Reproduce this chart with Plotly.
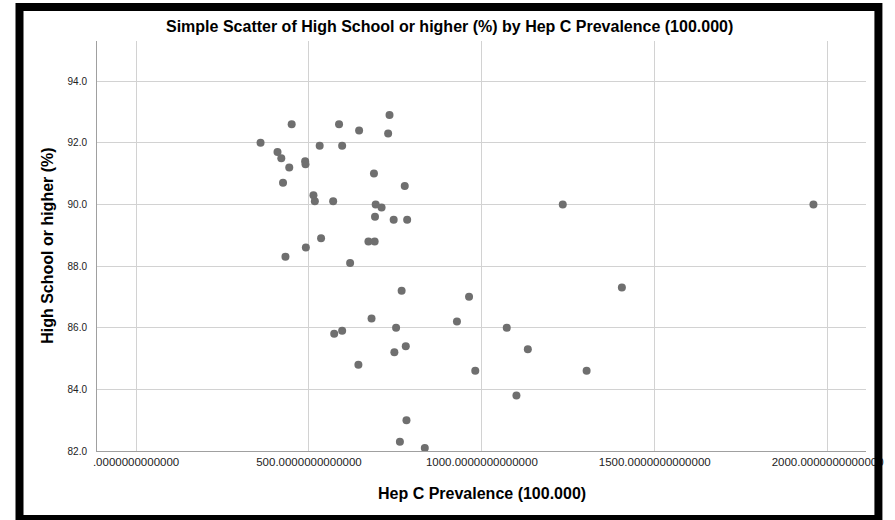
import plotly.graph_objects as go

# Hepatitis C prevalence (per 100,000) and share of adults with high school or higher (%)
hep_c = [1234, 1959, 1405, 1072, 1133, 1303, 1100, 768, 963, 681,
         928, 752, 780, 747, 981, 782, 763, 835, 573, 596,
         643, 450, 587, 645, 360, 531, 596, 409, 420, 489,
         490, 443, 425, 513, 517, 570, 535, 491, 432, 619,
         733, 729, 688, 777, 693, 710, 691, 745, 784, 672, 690]
hs_pct = [90.0, 90.0, 87.3, 86.0, 85.3, 84.6, 83.8, 87.2, 87.0, 86.3,
          86.2, 86.0, 85.4, 85.2, 84.6, 83.0, 82.3, 82.1, 85.8, 85.9,
          84.8, 92.6, 92.6, 92.4, 92.0, 91.9, 91.9, 91.7, 91.5, 91.4,
          91.3, 91.2, 90.7, 90.3, 90.1, 90.1, 88.9, 88.6, 88.3, 88.1,
          92.9, 92.3, 91.0, 90.6, 90.0, 89.9, 89.6, 89.5, 89.5, 88.8, 88.8]

x_ticks = [0, 500, 1000, 1500, 2000]
x_labels = [".0000000000000", "500.0000000000000", "1000.0000000000000",
            "1500.0000000000000", "2000.0000000000000"]
y_ticks = [82, 84, 86, 88, 90, 92, 94]
y_labels = ["82.0", "84.0", "86.0", "88.0", "90.0", "92.0", "94.0"]

title_text = "Simple Scatter of High School or higher (%) by Hep C Prevalence (100.000)"
x_title = "Hep C Prevalence (100.000)"
y_title = "High School or higher (%)"

W, H = 895, 520
ML, MR, MT, MB = 97, 24, 41, 69
FONT = "Liberation Sans, Arial, Helvetica, sans-serif"


def fx(p):
    """pixel column -> paper x"""
    return (p - ML) / (W - ML - MR)


def fy(p):
    """pixel row -> paper y"""
    return (H - MB - p) / (H - MT - MB)


fig = go.Figure(
    go.Scatter(
        x=hep_c, y=hs_pct, mode="markers",
        marker=dict(size=8, color="#6f6f6f", line=dict(width=0)),
        cliponaxis=False, hoverinfo="x+y",
    )
)

axis_common = dict(
    showgrid=True, gridcolor="#d2d2d2", gridwidth=1,
    showline=True, linecolor="#a0a0a0", linewidth=1,
    zeroline=False, ticks="", fixedrange=True,
)

fig.update_xaxes(
    range=[-113, 2111], tickmode="array", tickvals=x_ticks, ticktext=x_labels,
    tickfont=dict(family=FONT, size=11.5, color="#222222"), **axis_common,
)
fig.update_yaxes(
    range=[82, 95.3], tickmode="array", tickvals=y_ticks, ticktext=y_labels,
    tickfont=dict(family=FONT, size=10, color="#222222"),
    ticklabelstandoff=7, **axis_common,
)

fig.add_annotation(
    text=f"<b>{title_text}</b>", xref="paper", yref="paper",
    x=fx(452), y=fy(27), xanchor="center", yanchor="middle", showarrow=False,
    font=dict(family=FONT, size=16, color="#000000"),
)
fig.add_annotation(
    text=f"<b>{x_title}</b>", xref="paper", yref="paper",
    x=fx(484), y=fy(493), xanchor="center", yanchor="middle", showarrow=False,
    font=dict(family=FONT, size=16, color="#000000"),
)
fig.add_annotation(
    text=f"<b>{y_title}</b>", xref="paper", yref="paper",
    x=fx(46.5), y=fy(246), xanchor="center", yanchor="middle", showarrow=False,
    textangle=-90, font=dict(family=FONT, size=16, color="#000000"),
)

# heavy black frame around the whole chart
fig.add_shape(
    type="rect", xref="paper", yref="paper",
    x0=fx(19), x1=fx(883.5), y0=fy(519), y1=fy(7),
    line=dict(color="#000000", width=8), fillcolor="rgba(0,0,0,0)", layer="above",
)

fig.update_layout(
    width=W, height=H,
    margin=dict(l=ML, r=MR, t=MT, b=MB, pad=0),
    paper_bgcolor="#ffffff", plot_bgcolor="#ffffff",
    showlegend=False,
    font=dict(family=FONT),
)

fig.write_html("out.html", config={"displayModeBar": False})
